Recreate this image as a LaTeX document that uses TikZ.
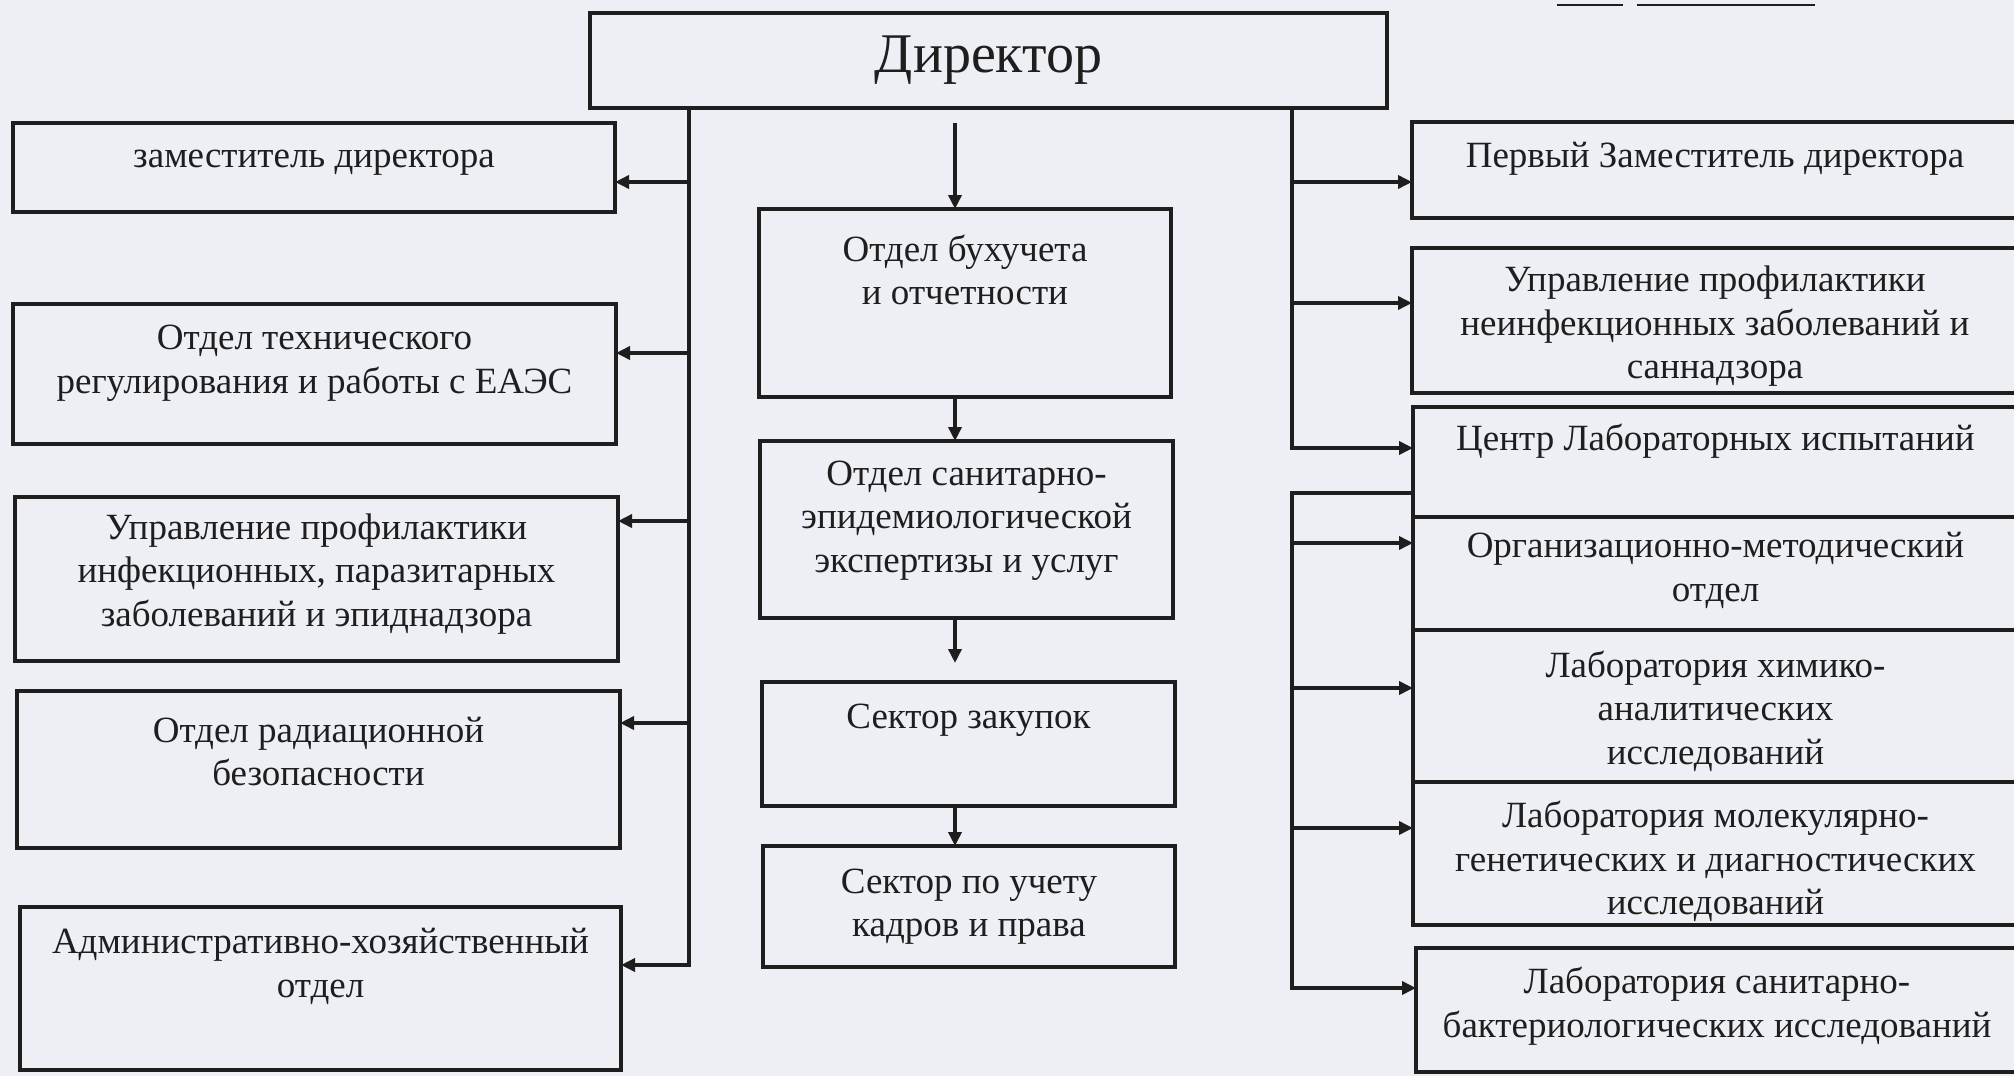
\documentclass[tikz,border=0pt]{standalone}
\usepackage{fontspec}
\setmainfont{Liberation Serif}
\usetikzlibrary{arrows.meta}
\definecolor{paper}{RGB}{237,239,245}
\definecolor{ink}{RGB}{30,30,30}
\tikzset{
  box/.style={draw=ink, line width=4pt, inner sep=0pt, outer sep=0pt, anchor=north west},
  txt/.style={align=center, text=ink, inner sep=0pt, font=\fontsize{37}{43.5}\selectfont},
  link/.style={draw=ink, line width=3.5pt},
  arr/.style={link, -{Triangle[length=14pt,width=13pt]}},
}
\begin{document}
\begin{tikzpicture}[x=1pt, y=-1pt]
            \clip (0,0) rectangle (2014,1076);
            \fill[paper] (0,0) rectangle (2014,1076);
            \draw[link, line width=2pt] (1557,5) -- (1623,5) (1637,5) -- (1815,5);
            \node[box, minimum width=797pt, minimum height=95pt] (dir) at (590,13) {};
            \node[txt, font=\fontsize{56}{60}\selectfont] (dirt) at (dir.center) {Директор};
            \node[box, minimum width=602pt, minimum height=89pt] (zam) at (13,123) {};
            \node[txt] (zamt) at ([yshift=5pt]zam.center) {заместитель директора};
            \node[box, minimum width=603pt, minimum height=140pt] (tech) at (13,304) {};
            \node[txt] (techt) at ([yshift=11pt]tech.center) {Отдел технического\\регулирования и работы с ЕАЭС};
            \node[box, minimum width=603pt, minimum height=164pt] (inf) at (15,497) {};
            \node[txt] (inft) at ([yshift=5pt]inf.center) {Управление профилактики\\инфекционных, паразитарных\\заболеваний и эпиднадзора};
            \node[box, minimum width=603pt, minimum height=157pt] (rad) at (17,691) {};
            \node[txt] (radt) at ([yshift=18pt]rad.center) {Отдел радиационной\\безопасности};
            \node[box, minimum width=601pt, minimum height=163pt] (ahd) at (20,907) {};
            \node[txt] (ahdt) at ([yshift=22pt]ahd.center) {Административно-хозяйственный\\отдел};
            \node[box, minimum width=412pt, minimum height=188pt] (buh) at (759,209) {};
            \node[txt] (buht) at ([yshift=33pt]buh.center) {Отдел бухучета\\и отчетности};
            \node[box, minimum width=413pt, minimum height=177pt] (san) at (760,441) {};
            \node[txt] (sant) at ([yshift=9pt]san.center) {Отдел санитарно-\\эпидемиологической\\экспертизы и услуг};
            \node[box, minimum width=413pt, minimum height=124pt] (zak) at (762,682) {};
            \node[txt] (zakt) at ([yshift=24pt]zak.center) {Сектор закупок};
            \node[box, minimum width=412pt, minimum height=121pt] (kadr) at (763,846) {};
            \node[txt] (kadrt) at (kadr.center) {Сектор по учету\\кадров и права};
            \node[box, minimum width=606pt, minimum height=96pt] (perv) at (1412,122) {};
            \node[txt] (pervt) at ([yshift=11pt]perv.center) {Первый Заместитель директора};
            \node[box, minimum width=606pt, minimum height=145pt] (neinf) at (1412,248) {};
            \node[txt] (neinft) at ([yshift=-6pt]neinf.center) {Управление профилактики\\неинфекционных заболеваний и\\саннадзора};
            \node[box, minimum width=605pt, minimum height=110pt] (centr) at (1413,407) {};
            \node[txt] (centrt) at ([yshift=21pt]centr.center) {Центр Лабораторных испытаний};
            \node[box, minimum width=605pt, minimum height=113pt] (org) at (1413,517) {};
            \node[txt] (orgt) at ([yshift=3pt]org.center) {Организационно-методический\\отдел};
            \node[box, minimum width=605pt, minimum height=152pt] (him) at (1413,630) {};
            \node[txt] (himt) at ([yshift=-5pt]him.center) {Лаборатория химико-\\аналитических\\исследований};
            \node[box, minimum width=605pt, minimum height=143pt] (mol) at (1413,782) {};
            \node[txt] (molt) at ([yshift=-8pt]mol.center) {Лаборатория молекулярно-\\генетических и диагностических\\исследований};
            \node[box, minimum width=602pt, minimum height=124pt] (bakt) at (1416,948) {};
            \node[txt] (baktt) at ([yshift=4pt]bakt.center) {Лаборатория санитарно-\\бактериологических исследований};
            \coordinate (lb) at (689,965);
            \coordinate (cv) at (955,123);
            \coordinate (rb) at (1292,448);
            \coordinate (rc) at (1292,988);
            \draw[arr] (dir.south -| lb) -- (lb) -- (ahd.east |- lb);
            \draw[arr] (lb |- 0,182) -- (zam.east |- 0,182);
            \draw[arr] (lb |- 0,353) -- (tech.east |- 0,353);
            \draw[arr] (lb |- 0,521) -- (inf.east |- 0,521);
            \draw[arr] (lb |- 0,723) -- (rad.east |- 0,723);
            \draw[arr] (cv) -- (cv |- buh.north);
            \draw[arr] (buh.south -| cv) -- (san.north -| cv);
            \draw[arr, shorten >=19pt] (san.south -| cv) -- (zak.north -| cv);
            \draw[arr] (zak.south -| cv) -- (kadr.north -| cv);
            \draw[arr] (dir.south -| rb) -- (rb) -- (centr.west |- rb);
            \draw[arr] (rb |- 0,182) -- (perv.west |- 0,182);
            \draw[arr] (rb |- 0,303) -- (neinf.west |- 0,303);
            \draw[arr] (centr.west |- 0,493) -- (rc |- 0,493) -- (rc) -- (bakt.west |- rc);
            \draw[arr] (rc |- 0,543) -- (org.west |- 0,543);
            \draw[arr] (rc |- 0,688) -- (him.west |- 0,688);
            \draw[arr] (rc |- 0,828) -- (mol.west |- 0,828);
        \end{tikzpicture}
\end{document}
